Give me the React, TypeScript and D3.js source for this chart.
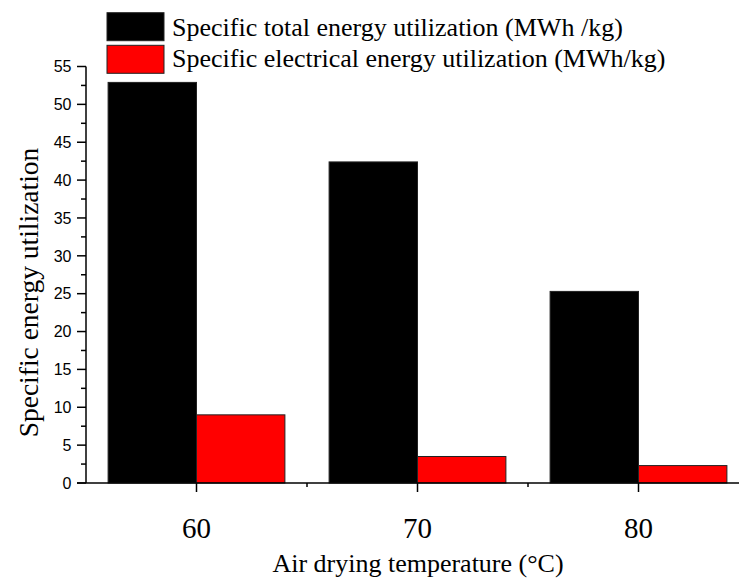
import React from "react";
import * as d3 from "d3";

const temperatures = [60, 70, 80];
const totalEnergy = [52.9, 42.4, 25.3];
const electricalEnergy = [9.0, 3.5, 2.3];
const yTicks = [0, 5, 10, 15, 20, 25, 30, 35, 40, 45, 50, 55];
const seriesNames = [
  "Specific total energy utilization (MWh /kg)",
  "Specific electrical energy utilization (MWh/kg)",
];
const seriesColors = ["#000000", "#ff0000"];

const W = 739;
const H = 579;
const left = 86;
const bottom = 483;

export default function App() {
  const x = d3.scaleLinear().domain([55, 85]).range([left, left + 663]);
  const y = d3.scaleLinear().domain([0, 55]).range([bottom, 66.5]);
  const barW = (x(70) - x(60)) * 0.4;
  const minorY = d3.range(2.5, 55, 5);
  const minorX = [65, 75];

  const serif = "'Liberation Serif', 'Times New Roman', serif";
  const sans = "'Liberation Sans', Arial, sans-serif";

  return (
    <svg
      width={W}
      height={H}
      style={{ position: "absolute", left: 0, top: 0, background: "#fff" }}
    >
      {/* bars */}
      {temperatures.map((t, i) => (
        <g key={t}>
          <rect
            x={x(t) - barW}
            y={y(totalEnergy[i])}
            width={barW}
            height={bottom - y(totalEnergy[i])}
            fill={seriesColors[0]}
            stroke="#222"
            strokeWidth={1}
          />
          <rect
            x={x(t)}
            y={y(electricalEnergy[i])}
            width={barW}
            height={bottom - y(electricalEnergy[i])}
            fill={seriesColors[1]}
            stroke="#222"
            strokeWidth={1}
          />
        </g>
      ))}

      {/* y axis */}
      <line x1={left} x2={left} y1={bottom} y2={y(55)} stroke="#000" strokeWidth={1.5} />
      {yTicks.map((v) => (
        <g key={v}>
          <line x1={left - 9} x2={left} y1={y(v)} y2={y(v)} stroke="#000" strokeWidth={1.5} />
          <text
            x={71.5}
            y={y(v)}
            dy="0.36em"
            textAnchor="end"
            fontFamily={sans}
            fontSize={16}
            fill="#000"
          >
            {v}
          </text>
        </g>
      ))}
      {minorY.map((v) => (
        <line key={v} x1={left - 5} x2={left} y1={y(v)} y2={y(v)} stroke="#000" strokeWidth={1.5} />
      ))}

      {/* x axis */}
      <line x1={left - 9} x2={W} y1={bottom} y2={bottom} stroke="#000" strokeWidth={1.5} />
      {temperatures.map((t) => (
        <g key={t}>
          <line x1={x(t)} x2={x(t)} y1={bottom} y2={bottom + 9} stroke="#000" strokeWidth={1.5} />
          <text
            x={x(t)}
            y={537.5}
            textAnchor="middle"
            fontFamily={serif}
            fontSize={29}
            fill="#000"
          >
            {t}
          </text>
        </g>
      ))}
      {minorX.map((t) => (
        <line key={t} x1={x(t)} x2={x(t)} y1={bottom} y2={bottom + 4} stroke="#000" strokeWidth={1.5} />
      ))}

      {/* axis titles */}
      <text
        x={418}
        y={571.5}
        textAnchor="middle"
        fontFamily={serif}
        fontSize={26}
        fill="#000"
      >
        Air drying temperature (°C)
      </text>
      <text
        transform={`translate(38, ${292.5}) rotate(-90)`}
        textAnchor="middle"
        fontFamily={serif}
        fontSize={27.5}
        fill="#000"
      >
        Specific energy utilization
      </text>

      {/* legend */}
      {seriesNames.map((name, i) => (
        <g key={name}>
          <rect
            x={107}
            y={12.7 + i * 32.6}
            width={57}
            height={28}
            fill={seriesColors[i]}
            stroke="#222"
            strokeWidth={1}
          />
          <text
            x={172}
            y={35.7 + i * 31.5}
            fontFamily={serif}
            fontSize={26}
            fill="#000"
          >
            {name}
          </text>
        </g>
      ))}
    </svg>
  );
}
